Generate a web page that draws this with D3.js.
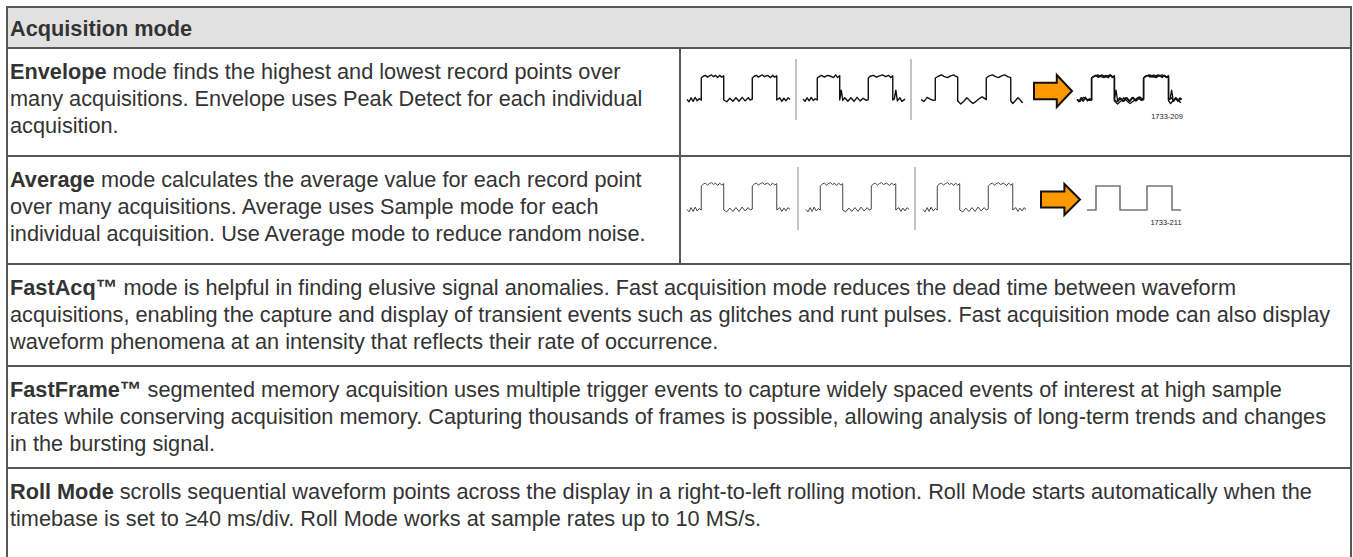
<!DOCTYPE html>
<html>
<head>
<meta charset="utf-8">
<script src="https://cdn.jsdelivr.net/npm/d3@7/dist/d3.min.js"></script>
<style>
  html, body { margin: 0; padding: 0; background: #fff; }
  svg { display: block; }
  text { font-family: "Liberation Sans", Arial, Helvetica, sans-serif; }
</style>
</head>
<body>
<svg id="chart" width="1353" height="557"></svg>
<script>
// ---------------- DATA ----------------
const headerTitle = "Acquisition mode";
const modeNames = ["Envelope", "Average", "FastAcq\u2122", "FastFrame\u2122", "Roll Mode"];
const envelopeLines = [
  " mode finds the highest and lowest record points over",
  "many acquisitions. Envelope uses Peak Detect for each individual",
  "acquisition."
];
const averageLines = [
  " mode calculates the average value for each record point",
  "over many acquisitions. Average uses Sample mode for each",
  "individual acquisition. Use Average mode to reduce random noise."
];
const fastAcqLines = [
  " mode is helpful in finding elusive signal anomalies. Fast acquisition mode reduces the dead time between waveform",
  "acquisitions, enabling the capture and display of transient events such as glitches and runt pulses. Fast acquisition mode can also display",
  "waveform phenomena at an intensity that reflects their rate of occurrence."
];
const fastFrameLines = [
  " segmented memory acquisition uses multiple trigger events to capture widely spaced events of interest at high sample",
  "rates while conserving acquisition memory. Capturing thousands of frames is possible, allowing analysis of long-term trends and changes",
  "in the bursting signal."
];
const rollLines = [
  " scrolls sequential waveform points across the display in a right-to-left rolling motion. Roll Mode starts automatically when the",
  "timebase is set to \u226540 ms/div. Roll Mode works at sample rates up to 10 MS/s."
];
const figureLabels = ["1733-209", "1733-211"];

// waveform samples: [time, level] (level 0 = low, 1 = high)
const sampleWave = [
  [0,0.02],[2,-0.08],[4,0.1],[6,-0.06],[8,0.12],[10,-0.04],[12,0.06],[14,0],
  [14,1],[16,1.08],[18,1.12],[20,1.04],[22,1.1],[24,1.14],[26,1.06],[28,1.12],[30,1.02],[32,1.12],[34,1.04],[36,1.1],
  [36,0],[39,-0.08],[42,0.08],[45,-0.06],[48,0.1],[51,-0.06],[54,0.12],[57,-0.04],[60,0.1],[62,0.0],[64,0.04],
  [64,1],[66,1.08],[68,1.12],[70,1.04],[72,1.1],[74,1.14],[76,1.06],[79,1.12],[82,1.02],[84,1.12],[86,1.04],[88,1.1],
  [88,0],[91,0.1],[93,-0.06],[95,0.08],[97,-0.04],[99,0.1],[101,0.02]
];
const glitchWave = [
  [0,0.04],[2,-0.06],[4,0.1],[6,-0.04],[8,0.12],[10,-0.02],[12,0.05],[14,0],
  [14,1],[16,1.06],[18,1.12],[21,1.04],[24,1.12],[27,1.08],[30,1.02],[32,1.14],[34,1.02],[36,1.1],
  [36,0],[37.5,0.45],[39,-0.02],[41,0.1],[44,-0.06],[47,0.1],[50,-0.06],[53,0.12],[56,-0.04],[59,0.08],[62,-0.02],[64,0.02],
  [64,1],[66,1.08],[69,1.12],[72,1.04],[75,1.1],[78,1.14],[81,1.06],[84,1.12],[86,1.02],[88,1.1],
  [88,0],[89.5,0.05],[91,0.45],[92.5,-0.04],[95,0.1],[97,-0.06],[100,0.04]
];
const slowWave = [
  [0,0.02],[3,-0.06],[6,0.12],[9,0.04],[12,-0.02],[14,0],
  [14,1],[17,1.08],[20,1.14],[23,1.06],[26,1.02],[29,1.1],[32,1.14],[34,1.08],[36,1.04],
  [36,-0.05],[39,-0.18],[42,-0.06],[45,0.1],[48,-0.04],[51,-0.16],[54,-0.06],[57,0.06],[60,0.14],[64,0.02],
  [64,1],[67,1.1],[70,1.14],[73,1.06],[76,1.02],[79,1.1],[82,1.14],[85,1.06],[88,1.02],
  [88,-0.04],[90,-0.16],[92,-0.06],[95,0.1],[97,0.02],[99,-0.1],[100,-0.12]
];
const averageWave = [
  [0,0],[9,0],[9,1],[33,1],[33,0],[60,0],[60,1],[85,1],[85,0],[94,0]
];
const arrowShape = [
  [0,0.24],[0.6,0.24],[0.6,0],[1,0.5],[0.6,1],[0.6,0.76],[0,0.76]
];

// ---------------- LAYOUT ----------------
const svg = d3.select("#chart");
const left = 7, right = 1351;
const rowEdges = [7, 48, 156, 264, 366, 468, 590];
const dividerX = 680;
const lineH = 27;
const fontSize = 22.4;
const squeeze = 0.97;
const textColor = "#333333";
const borderColor = "#575757";

// header background
svg.append("rect").attr("x", left).attr("y", rowEdges[0]).attr("width", right - left)
  .attr("height", rowEdges[1] - rowEdges[0]).attr("fill", "#e1e1e1");

const textG = svg.append("g").attr("transform", `translate(10,0) scale(${squeeze},1)`);

textG.append("text").attr("x", 0).attr("y", 36).attr("font-size", fontSize)
  .attr("font-weight", "bold").attr("fill", textColor).text(headerTitle);

const allLines = [envelopeLines, averageLines, fastAcqLines, fastFrameLines, rollLines];
allLines.forEach((lines, r) => {
  const top = rowEdges[r + 1];
  lines.forEach((ln, i) => {
    const t = textG.append("text").attr("x", 0).attr("y", top + 31 + i * lineH)
      .attr("font-size", fontSize).attr("fill", textColor).attr("xml:space", "preserve");
    if (i === 0) {
      t.append("tspan").attr("font-weight", "bold").text(modeNames[r]);
    }
    t.append("tspan").text(ln);
  });
});

// ---------------- ICONS ----------------
function drawWave(data, x0, width, lowY, highY, color, sw) {
  const x = d3.scaleLinear().domain([0, 100]).range([x0, x0 + width]);
  const y = d3.scaleLinear().domain([0, 1]).range([lowY, highY]);
  const line = d3.line().x(d => x(d[0])).y(d => y(d[1]));
  svg.append("path").attr("d", line(data)).attr("fill", "none")
    .attr("stroke", color).attr("stroke-width", sw).attr("stroke-linejoin", "round");
}
function drawArrow(x0, y0, w, h) {
  const x = d3.scaleLinear().domain([0, 1]).range([x0, x0 + w]);
  const y = d3.scaleLinear().domain([0, 1]).range([y0, y0 + h]);
  svg.append("path").attr("d", d3.line().x(d => x(d[0])).y(d => y(d[1]))(arrowShape) + "Z")
    .attr("fill", "#ff9900").attr("stroke", "#111").attr("stroke-width", 2).attr("stroke-linejoin", "miter");
}
function drawSep(xp, y0, y1) {
  svg.append("line").attr("x1", xp).attr("x2", xp).attr("y1", y0).attr("y2", y1)
    .attr("stroke", "#c4c4c4").attr("stroke-width", 2);
}

// Envelope row
drawWave(sampleWave, 687, 102, 100, 78, "#111", 1.4);
drawSep(796, 59, 120);
drawWave(glitchWave, 803, 102, 100, 78, "#111", 1.4);
drawSep(911, 59, 120);
drawWave(slowWave, 921, 102, 100, 78, "#111", 1.4);
drawArrow(1034, 75, 38, 32);
[sampleWave, glitchWave, slowWave].forEach(w => drawWave(w, 1077, 104, 100, 78, "#111", 1.3));
svg.append("text").attr("x", 1167).attr("y", 119).attr("font-size", 7.5)
  .attr("text-anchor", "middle").attr("fill", "#222").text(figureLabels[0]);

// Average row
drawWave(sampleWave, 687, 102, 210, 186, "#444", 1.0);
drawSep(798, 167, 230);
drawWave(sampleWave, 806, 102, 210, 186, "#444", 1.0);
drawSep(915, 167, 230);
drawWave(sampleWave, 923, 102, 210, 186, "#444", 1.0);
drawArrow(1041, 184, 39, 31);
drawWave(averageWave, 1087, 100, 210, 186, "#777", 1.6);
svg.append("text").attr("x", 1166).attr("y", 225).attr("font-size", 7.5)
  .attr("text-anchor", "middle").attr("fill", "#222").text(figureLabels[1]);

// ---------------- BORDERS ----------------
const g = svg.append("g").attr("stroke", borderColor).attr("stroke-width", 2);
rowEdges.slice(0, 6).forEach(yv => {
  g.append("line").attr("x1", left).attr("x2", right).attr("y1", yv).attr("y2", yv);
});
g.append("line").attr("x1", left).attr("x2", left).attr("y1", rowEdges[0] - 1).attr("y2", 557);
g.append("line").attr("x1", right).attr("x2", right).attr("y1", rowEdges[0] - 1).attr("y2", 557);
g.append("line").attr("x1", dividerX).attr("x2", dividerX).attr("y1", rowEdges[1]).attr("y2", rowEdges[3]);
</script>
</body>
</html>
